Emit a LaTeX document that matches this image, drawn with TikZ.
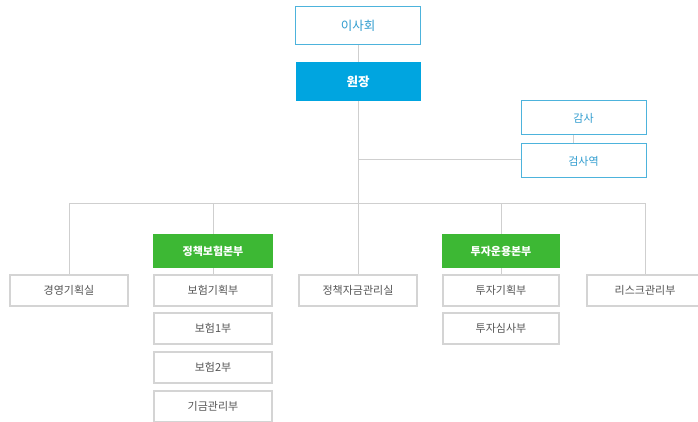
\documentclass[tikz,border=0pt]{standalone}
\usepackage{fontspec}
\setmainfont{Noto Sans CJK KR}
\definecolor{cyanline}{HTML}{4DB3DC}
\definecolor{cyantext}{HTML}{2F9CCF}
\definecolor{headfill}{HTML}{00A5E0}
\definecolor{greenfill}{HTML}{3DB834}
\definecolor{grayline}{HTML}{CFCFCF}
\definecolor{graybox}{HTML}{D4D4D4}
\definecolor{graytext}{HTML}{555555}
\begin{document}
\begin{tikzpicture}[x=1pt,y=-1pt,
  topbox/.style={draw=cyanline,line width=1pt,fill=white,minimum width=125pt,minimum height=38pt,inner sep=0pt,text=cyantext,font=\fontsize{12.5}{14}\selectfont},
  headbox/.style={fill=headfill,minimum width=125pt,minimum height=39pt,inner sep=0pt,text=white,font=\fontsize{12.5}{14}\selectfont\bfseries},
  auditbox/.style={draw=cyanline,line width=1pt,fill=white,minimum width=125pt,minimum height=34pt,inner sep=0pt,text=cyantext,font=\fontsize{11}{13}\selectfont},
  divbox/.style={fill=greenfill,minimum width=120pt,minimum height=34pt,inner sep=0pt,text=white,font=\fontsize{11}{13}\selectfont\bfseries},
  deptbox/.style={draw=graybox,line width=2pt,fill=white,minimum width=118pt,minimum height=31pt,inner sep=0pt,text=graytext,font=\fontsize{11}{13}\selectfont},
  link/.style={draw=grayline,line width=1pt}
]
\useasboundingbox (0,0) rectangle (698,422);
\coordinate (barL) at (69,203);
\coordinate (barR) at (645,203);
\coordinate (bar1) at (213,203);
\coordinate (bar2) at (501,203);
\coordinate (midA) at (358,160);

\node[topbox] (board) at (358,26) {이사회};
\node[headbox] (head) at (358,81.5) {원장};
\node[auditbox] (audit) at (583.5,118) {감사};
\node[auditbox] (auditor) at (583.5,161) {검사역};

\node[deptbox] (mgmt) at (69,290.5) {경영기획실};
\node[divbox] (policy) at (213,251) {정책보험본부};
\node[deptbox] (p1) at (213,290.5) {보험기획부};
\node[deptbox] (p2) at (213,328.5) {보험1부};
\node[deptbox] (p3) at (213,367.5) {보험2부};
\node[deptbox] (p4) at (213,406.5) {기금관리부};
\node[deptbox] (fund) at (358,290.5) {정책자금관리실};
\node[divbox,minimum width=118pt] (invest) at (501,251) {투자운용본부};
\node[deptbox,minimum width=116pt] (i1) at (501,290.5) {투자기획부};
\node[deptbox,minimum width=116pt] (i2) at (501,328.5) {투자심사부};
\node[deptbox,minimum width=116pt] (risk) at (645,290.5) {리스크관리부};

\draw[link] (board.south) -- (head.north);
\draw[link] (head.south) -- (fund.north);
\draw[link] (midA) -- (midA -| auditor.west);
\draw[link] ([xshift=-10.5pt]audit.south) -- ([xshift=-10.5pt]auditor.north);
\draw[link] (barL) -- (barR);
\draw[link] (barL) -- (mgmt.north);
\draw[link] (bar1) -- (policy.north);
\draw[link] (policy.south) -- (p1.north);
\draw[link] (bar2) -- (invest.north);
\draw[link] (invest.south) -- (i1.north);
\draw[link] (barR) -- (risk.north);
\end{tikzpicture}
\end{document}
